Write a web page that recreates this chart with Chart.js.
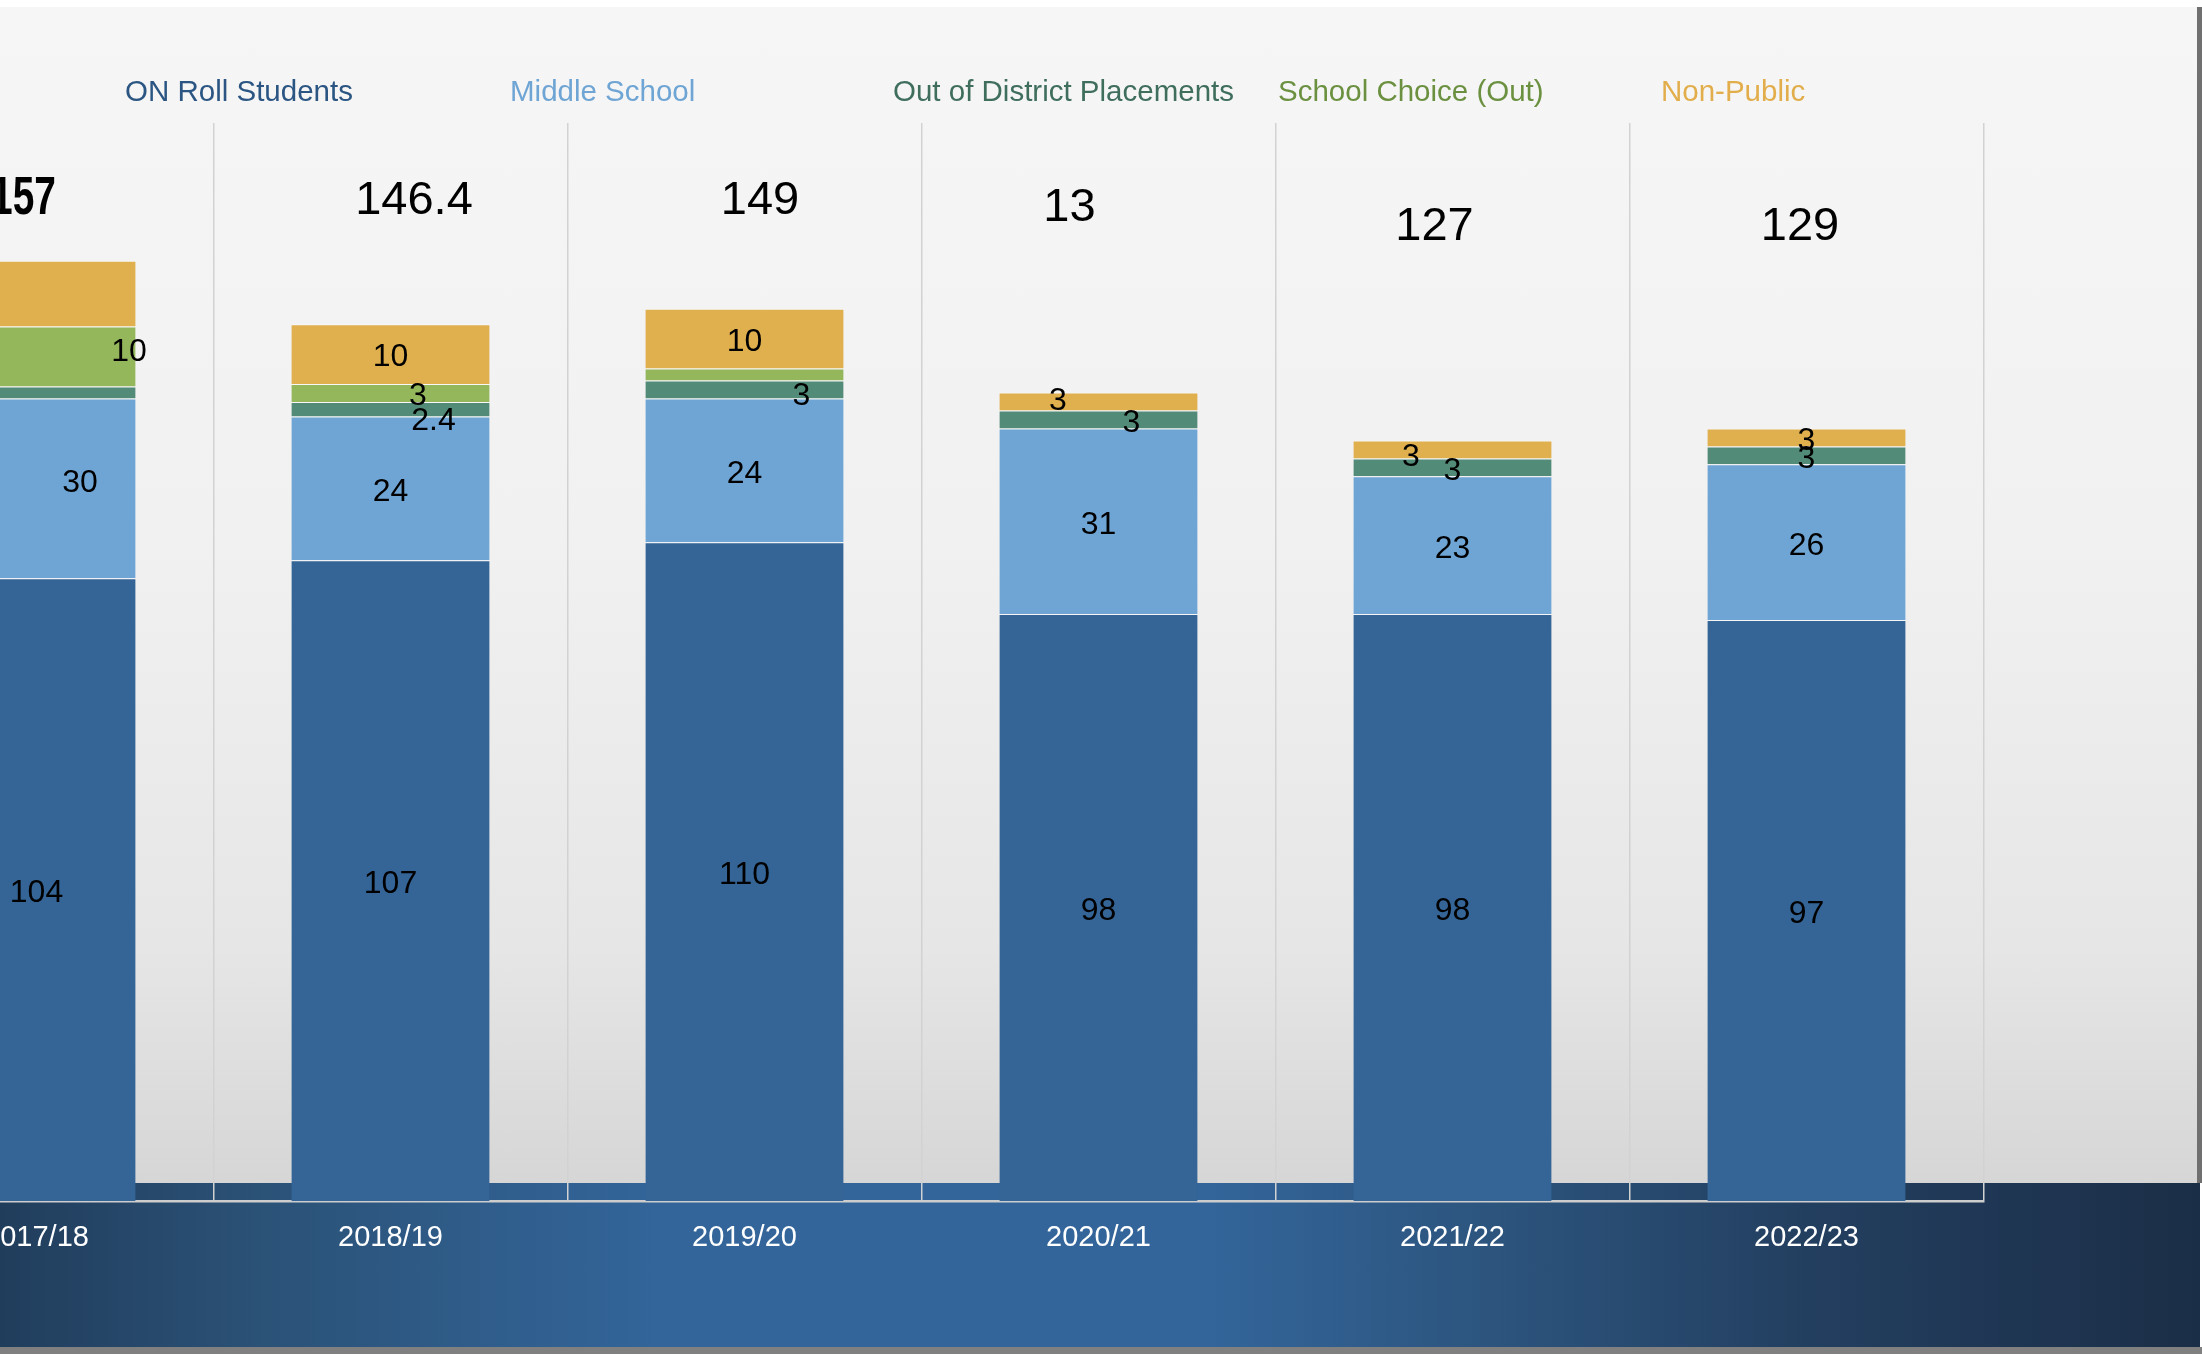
<!DOCTYPE html>
<html>
<head>
<meta charset="utf-8">
<script src="https://cdn.jsdelivr.net/npm/chart.js@4.4.1/dist/chart.umd.min.js"></script>
<style>
  html, body { margin: 0; padding: 0; }
  body { width: 2202px; height: 1354px; overflow: hidden; position: relative; background: #fff; font-family: "Liberation Sans", Arial, sans-serif; }
  .slide { position: absolute; left: 0; top: 7px; width: 2197px; height: 1176px;
    background: linear-gradient(to bottom, #f6f6f6 0%, #f1f1f1 45%, #e6e6e6 80%, #d6d6d6 100%); }
  .edge { position: absolute; left: 2197px; top: 7px; width: 5px; height: 1176px; background: #707070; }
  .band { position: absolute; left: 0; top: 1183px; width: 2200px; height: 164px;
    background: linear-gradient(to right, #213d5c 0%, #2b5277 12%, #33659a 30%, #33659a 55%, #2c547d 68%, #233f60 82%, #1b2e47 100%); }
  .strip { position: absolute; left: 0; top: 1347px; width: 2202px; height: 7px; background: #808080; }
  #chart { position: absolute; left: -200px; top: 0; }
</style>
</head>
<body>
<div class="slide"></div>
<div class="edge"></div>
<div class="band"></div>
<div class="strip"></div>
<canvas id="chart" width="2402" height="1354"></canvas>
<script>
// chart values
const years = ["2017/18", "2018/19", "2019/20", "2020/21", "2021/22", "2022/23"];
const onRoll = [104, 107, 110, 98, 98, 97];
const middleSchool = [30, 24, 24, 31, 23, 26];
const outOfDistrict = [2, 2.4, 3, 3, 3, 3];
const schoolChoice = [10, 3, 2, 0, 0, 0];
const nonPublic = [11, 10, 10, 3, 3, 3];
const totalLabels = ["157", "146.4", "149", "13", "127", "129"];
const seriesNames = ["ON Roll Students", "Middle School", "Out of District Placements", "School Choice (Out)", "Non-Public"];

const shiftX = 200; // canvas sits 200px left of the page

// legend drawn as coloured words only, on a fixed pitch
const textLegend = {
    id: "textLegend",
    afterDraw(chart, args, opts) {
        const ctx = chart.ctx;
        ctx.save();
        ctx.font = opts.font;
        ctx.textAlign = "left";
        ctx.textBaseline = "middle";
        chart.data.datasets.forEach((ds, i) => {
            ctx.fillStyle = opts.colors[i];
            ctx.fillText(ds.label, opts.x[i] + shiftX, opts.y);
        });
        ctx.restore();
    }
};

// numbers inside the segments
const segmentLabels = {
    id: "segmentLabels",
    afterDatasetsDraw(chart, args, opts) {
        const ctx = chart.ctx;
        ctx.save();
        ctx.font = opts.font;
        ctx.fillStyle = opts.color;
        ctx.textAlign = "center";
        ctx.textBaseline = "middle";
        chart.data.datasets.forEach((ds, i) => {
            chart.getDatasetMeta(i).data.forEach((bar, j) => {
                const v = ds.data[j];
                const key = i + "-" + j;
                if (!v || opts.hidden.includes(key)) return;
                const off = opts.offsets[key] || [0, 0];
                ctx.fillText(String(v), bar.x + off[0], (bar.y + bar.base) / 2 + off[1] + opts.nudge);
            });
        });
        ctx.restore();
    }
};

// totals typed above each column
const totalsText = {
    id: "totalsText",
    afterDatasetsDraw(chart, args, opts) {
        const ctx = chart.ctx;
        const xs = chart.scales.x;
        ctx.save();
        ctx.fillStyle = "#000";
        ctx.textAlign = "center";
        ctx.textBaseline = "middle";
        totalLabels.forEach((t, j) => {
            const p = opts.place[j];
            const x = xs.getPixelForValue(j) + p[0];
            const y = chart.chartArea.top + p[1] + opts.nudge;
            if (j === 0) {
                // first total is a squeezed bold face on the slide
                ctx.save();
                ctx.font = opts.firstFont;
                ctx.translate(x, y);
                ctx.scale(0.72, 1);
                ctx.fillText(t, 0, 0);
                ctx.restore();
            } else {
                ctx.font = opts.font;
                ctx.fillText(t, x, y);
            }
        });
        ctx.restore();
    }
};

const barColors = ["#346596", "#6fa5d4", "#528b78", "#94b75c", "#e0af4e"];
const seriesData = [onRoll, middleSchool, outOfDistrict, schoolChoice, nonPublic];

new Chart(document.getElementById("chart"), {
    type: "bar",
    data: {
        labels: years,
        datasets: seriesNames.map((name, i) => ({
            label: name,
            data: seriesData[i],
            backgroundColor: barColors[i],
            borderColor: "rgba(255,255,255,0.45)",
            borderWidth: { top: 1, left: 0, right: 0, bottom: 0 },
            borderSkipped: "start",
            categoryPercentage: 1,
            barPercentage: 0.56
        }))
    },
    options: {
        responsive: false,
        animation: false,
        devicePixelRatio: 1,
        layout: { padding: { top: 123, left: 59.5, right: 218.5, bottom: 0 } },
        scales: {
            x: {
                stacked: true,
                afterFit: s => { s.height = 153; },
                grid: { display: true, offset: true, drawTicks: false, color: "#d2d2d2", lineWidth: 1.5 },
                border: { display: true, color: "#cdcdcd", width: 2.5 },
                ticks: { color: "#ffffff", padding: 20, font: { family: "'Liberation Sans', Arial", size: 29 } }
            },
            y: {
                stacked: true,
                display: false,
                min: 0,
                max: 180
            }
        },
        plugins: {
            legend: { display: false },
            tooltip: { enabled: false },
            textLegend: {
                font: "29.5px 'Liberation Sans', Arial",
                x: [125, 510, 893, 1278, 1661],
                y: 92.5,
                colors: ["#2b5582", "#6fa5d4", "#3f6e5d", "#6b9140", "#e2ae4c"]
            },
            segmentLabels: {
                font: "32px 'Liberation Sans', Arial",
                color: "#000",
                nudge: 3.5,
                hidden: ["2-0", "4-0", "3-2"],
                offsets: {
                    "1-0": [43.5, -9], "3-0": [92.5, -8],
                    "2-1": [43, 8], "3-1": [27.5, 0],
                    "2-2": [57, 3],
                    "2-3": [33, 0], "4-3": [-40.5, -3.7],
                    "4-4": [-41.5, 4]
                }
            },
            totalsText: {
                font: "47px 'Liberation Sans', Arial",
                firstFont: "bold 54px 'Liberation Sans', Arial",
                nudge: 5,
                place: [[-13, 71.5], [23.5, 73], [15.5, 73], [-29, 80], [-18, 99.5], [-6.5, 99.5]]
            }
        }
    },
    plugins: [textLegend, segmentLabels, totalsText]
});
</script>
</body>
</html>
